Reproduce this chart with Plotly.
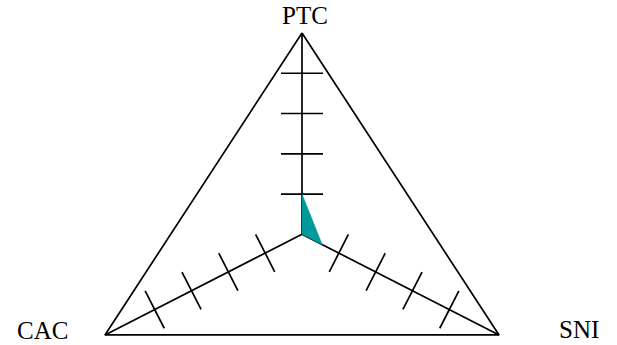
import math
import plotly.graph_objects as go

# ---- data ----
AXES = ["PTC", "CAC", "SNI"]
AXIS_ANGLES = [90, 210, 330]          # degrees, direction of each spoke
AXIS_MAX = [5.0, 5.35, 5.35]          # value at the outer vertex of each spoke
TICK_VALUES = [1, 2, 3, 4]
SERIES_VALUES = [1.0, 0.0, 0.55]      # PTC, CAC, SNI

# ---- layout geometry (pixel scale of the data units) ----
W, H = 617, 345
SX, SY = 227.5, 201.3                 # px per data unit in x / y
CX, CY = 302.0, 234.3                 # pixel position of the centre

x_range = [(0 - CX) / SX, (W - CX) / SX]
y_range = [(CY - H) / SY, CY / SY]


def to_xy(i, value):
    frac = value / AXIS_MAX[i]
    a = math.radians(AXIS_ANGLES[i])
    return frac * math.cos(a), frac * math.sin(a)


fig = go.Figure()
LINE = dict(color="black", width=1.7)

# outer triangle
fx, fy = [], []
for i in list(range(len(AXES))) + [0]:
    x, y = to_xy(i, AXIS_MAX[i])
    fx.append(x)
    fy.append(y)
fig.add_trace(go.Scatter(x=fx, y=fy, mode="lines", line=LINE, hoverinfo="skip"))

# spokes
sx, sy = [], []
for i in range(len(AXES)):
    x, y = to_xy(i, AXIS_MAX[i])
    sx += [0, x, None]
    sy += [0, y, None]
fig.add_trace(go.Scatter(x=sx, y=sy, mode="lines", line=LINE, hoverinfo="skip"))

# tick marks, perpendicular to each spoke on screen
for i in range(len(AXES)):
    a = math.radians(AXIS_ANGLES[i])
    dx, dy = math.cos(a) * SX, -math.sin(a) * SY
    ang = math.degrees(math.atan2(dy, dx)) + 90
    pts = [to_xy(i, v) for v in TICK_VALUES]
    fig.add_trace(go.Scatter(
        x=[p[0] for p in pts], y=[p[1] for p in pts], mode="markers",
        marker=dict(symbol="line-ew", size=30, angle=ang,
                    line=dict(color="black", width=1.7)),
        hoverinfo="skip"))

# filled series
px, py = [], []
for i in range(len(AXES)):
    x, y = to_xy(i, SERIES_VALUES[i])
    px.append(x)
    py.append(y)
px.append(px[0])
py.append(py[0])
fig.add_trace(go.Scatter(x=px, y=py, mode="lines", fill="toself",
                         fillcolor="#009999", line=dict(color="#009999", width=0.5),
                         hoverinfo="skip"))

# axis labels
LABEL_SHIFT = [(2.5, 18), (-62, 4), (79.5, 5.5)]
for i, name in enumerate(AXES):
    x, y = to_xy(i, AXIS_MAX[i])
    fig.add_annotation(x=x, y=y, text=name, showarrow=False,
                       xanchor="center", yanchor="middle",
                       xshift=LABEL_SHIFT[i][0], yshift=LABEL_SHIFT[i][1],
                       font=dict(family="Liberation Serif", size=25, color="black"))

fig.update_layout(
    width=W, height=H, margin=dict(l=0, r=0, t=0, b=0),
    paper_bgcolor="white", plot_bgcolor="white", showlegend=False,
    xaxis=dict(range=x_range, visible=False, fixedrange=True),
    yaxis=dict(range=y_range, visible=False, fixedrange=True),
)

fig.write_html("out.html", config={"displayModeBar": False},
               post_script="document.body.style.margin='0';"
                           "document.body.style.overflow='hidden';")
